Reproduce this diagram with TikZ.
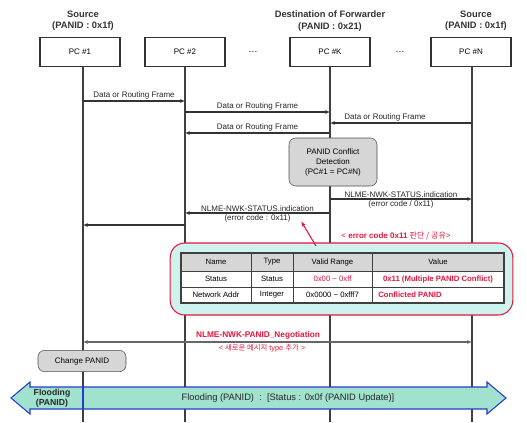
\documentclass[tikz,border=0pt]{standalone}
\usepackage{fontspec}
\setmainfont{Liberation Sans}
\newfontfamily\krfont{Noto Sans CJK KR}
\usepackage{xcolor}
\definecolor{pcred}{RGB}{232,20,60}
\definecolor{pcblue}{RGB}{40,60,200}
\definecolor{pcteal}{RGB}{160,226,206}
\definecolor{pccyan}{RGB}{206,243,238}
\definecolor{pcgray}{RGB}{214,214,214}
\usetikzlibrary{arrows.meta,positioning,calc}

\begin{document}
\begin{tikzpicture}[x=0.75pt, y=-0.75pt,
  pcbox/.style={rectangle, draw=black!80, thick, fill=white,
                minimum width=60pt, minimum height=22pt,
                font=\fontsize{6}{7}\selectfont},
  hdr/.style={font=\fontsize{7}{8.5}\selectfont\bfseries, align=center, text=black!80},
  gbox/.style={rectangle, rounded corners=5pt, draw=black!70, fill=pcgray,
               align=center, font=\fontsize{6}{7.5}\selectfont},
  lbl/.style={font=\fontsize{6}{7}\selectfont, inner sep=1pt, text=black!85},
  life/.style={draw=black!75, thick},
  msg/.style={-{Latex[length=3.5pt,width=3pt]}, draw=black!80, thick},
  cell/.style={font=\fontsize{5.8}{7}\selectfont, inner sep=0pt},
  redarr/.style={-{Latex[length=4pt]}, draw=pcred, thick}
]
\useasboundingbox (0,0) rectangle (527,422);

% Header labels
\node[hdr] (src1) at (83,21)  {Source\\(PANID : 0x1f)};
\node[hdr] (dst)  at (330,21) {Destination of Forwarder\\(PANID : 0x21)};
\node[hdr] (srcn) at (476,21) {Source\\(PANID : 0x1f)};

% Devices
\node[pcbox] (pc1) at (80,52)  {PC \#1};
\node[pcbox] (pc2) at (185,52) {PC \#2};
\node[pcbox] (pck) at (330,52) {PC \#K};
\node[pcbox] (pcn) at (471,52) {PC \#N};
\node[font=\fontsize{7}{8}\selectfont] (dots1) at (253,52) {\dots};
\node[font=\fontsize{7}{8}\selectfont] (dots2) at (400,52) {\dots};

% Lifelines
\coordinate (l1) at (83,0);
\coordinate (l2) at (185,0);
\coordinate (lk) at (330,0);
\coordinate (ln) at (472,0);
\draw[life] (l1 |- pc1.south) -- (l1 |- 0,422);
\draw[life] (l2 |- pc2.south) -- (l2 |- 0,422);
\draw[life] (lk |- pck.south) -- (lk |- 0,422);
\draw[life] (ln |- pcn.south) -- (ln |- 0,422);

% Data frames
\draw[msg] (l1 |- 0,101) -- node[lbl, above] {Data or Routing Frame} (l2 |- 0,101);
\draw[msg] (l2 |- 0,112) -- node[lbl, above] {Data or Routing Frame} (lk |- 0,112);
\draw[msg] (ln |- 0,123) -- node[lbl, above, xshift=-12pt] {Data or Routing Frame} (lk |- 0,123);
\draw[msg] (lk |- 0,133) -- node[lbl, above] {Data or Routing Frame} (l2 |- 0,133);

% Conflict detection
\node[gbox, minimum width=66pt, minimum height=36pt] (detect) at (333,162)
  {PANID Conflict\\Detection\\(PC\#1 = PC\#N)};

% Status indications
\draw[msg] (lk |- 0,199) -- node[lbl, above] {NLME-NWK-STATUS.indication}
  node[lbl, below] {(error code / 0x11)} (ln |- 0,199);
\draw[msg] (lk |- 0,213) -- node[lbl, above] {NLME-NWK-STATUS.indication}
  node[lbl, below] (errlbl) {(error code : 0x11)} (l2 |- 0,213);
\draw[msg] (l2 |- 0,225) -- (l1 |- 0,225);

% Error code parameters
\node[font=\fontsize{6}{7}\selectfont, text=pcred] (errtxt) at (396,236)
  {<~\textbf{error code 0x11} {\krfont 판단 / 공유}>};
\node[rectangle, rounded corners=11pt, draw=pcred, thick, fill=pccyan,
      minimum width=257pt, minimum height=54pt] (errbox) at (341.5,279) {};
\coordinate (tail) at (316,246);
\coordinate (tip) at (301,221);
\draw[redarr] (tail) -- (tip);

% Table
\fill[pcgray] (181,253) rectangle (504,271);
\fill[white] (181,271) rectangle (504,303);
\draw[black!75, thick] (181,253) rectangle (504,303);
\draw[black!75] (181,271) -- (504,271) (181,287) -- (504,287);
\foreach \cx in {251,293,372}
  \draw[black!75] (\cx,253) -- (\cx,303);
\node[cell] (th1) at (216,262)   {Name};
\node[cell] (th2) at (272,262)   {Type};
\node[cell] (th3) at (332.5,262) {Valid Range};
\node[cell] (th4) at (438,262)   {Value};
\node[cell] (r11) at (216,279)   {Status};
\node[cell] (r12) at (272,279)   {Status};
\node[cell, text=pcred] (r13) at (332.5,279) {0x00 \textasciitilde{} 0xff};
\node[cell, text=pcred, font=\fontsize{5.8}{7}\selectfont\bfseries] (r14) at (438,279)
  {0x11 (Multiple PANID Conflict)};
\node[cell] (r21) at (216,295)   {Network Addr};
\node[cell] (r22) at (272,295)   {Integer};
\node[cell] (r23) at (332.5,295) {0x0000 \textasciitilde{} 0xfff7};
\node[cell, text=pcred, font=\fontsize{5.8}{7}\selectfont\bfseries, anchor=west] (r24) at (378,295)
  {Conflicted PANID};

% PANID negotiation
\draw[{Latex[length=3.5pt,width=3pt]}-{Latex[length=3.5pt,width=3pt]}, draw=black!60, thick]
  (l1 |- 0,342) -- (ln |- 0,342);
\node[font=\fontsize{6.2}{7}\selectfont\bfseries, text=pcred] (nego) at (258,335)
  {NLME-NWK-PANID\_Negotiation};
\node[font=\fontsize{5.5}{6}\selectfont, text=pcred] (negokr) at (262,348)
  {< {\krfont 새로운 메시지} type {\krfont 추가} >};

% Change PANID
\node[gbox, minimum width=66pt, minimum height=16pt] (chg) at (82,361) {Change PANID};

% Flooding
\filldraw[draw=pcblue, thick, fill=pcteal]
  (11,398) -- (30,382) -- (30,387) -- (487,387) -- (487,382) -- (506,398)
  -- (487,414) -- (487,409) -- (30,409) -- (30,414) -- cycle;
\draw[pcblue, thick] (l1 |- 0,387) -- (l1 |- 0,409);
\node[font=\fontsize{6.5}{7.5}\selectfont\bfseries, align=center, text=black!85] (floodl) at (52,398)
  {Flooding\\(PANID)};
\node[font=\fontsize{7}{8}\selectfont, text=black!85] (flood) at (288,398)
  {Flooding (PANID)~~:~~[Status : 0x0f (PANID Update)]};
\end{tikzpicture}
\end{document}
